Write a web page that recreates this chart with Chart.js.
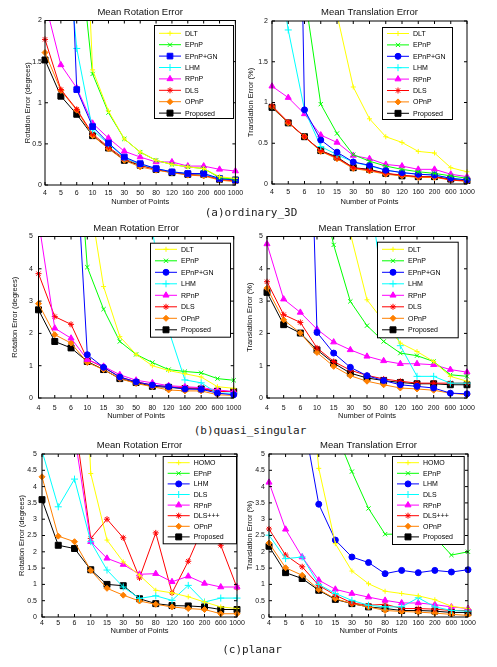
<!DOCTYPE html>
<html><head><meta charset="utf-8">
<script src="https://cdn.jsdelivr.net/npm/chart.js@4.4.1/dist/chart.umd.min.js"></script>
<style>
html,body{margin:0;padding:0;background:#fff;}
body{width:497px;height:667px;position:relative;overflow:hidden;}
.box{position:absolute;}
.box canvas{display:block;}
.cap{position:absolute;font-family:"DejaVu Sans Mono",monospace;font-size:11px;line-height:13px;color:#222;white-space:nowrap;transform:translateX(-50%);}
</style></head><body>
<div class="box" id="b1"><canvas id="c1"></canvas></div>
<div class="box" id="b2"><canvas id="c2"></canvas></div>
<div class="box" id="b3"><canvas id="c3"></canvas></div>
<div class="box" id="b4"><canvas id="c4"></canvas></div>
<div class="box" id="b5"><canvas id="c5"></canvas></div>
<div class="box" id="b6"><canvas id="c6"></canvas></div>
<div class="cap" style="left:251px;top:206px">(a)ordinary_3D</div>
<div class="cap" style="left:250px;top:424px">(b)quasi_singular</div>
<div class="cap" style="left:252px;top:643px">(c)planar</div>
<script>
// ---------- data ----------
const pointCounts = ['4','5','6','10','15','30','50','80','120','160','200','600','1000'];

// (a) ordinary_3D - rotation error (degrees)
const dlt1    = [9.5, 7.6, 5.7, 1.40, 0.90, 0.56, 0.40, 0.30, 0.25, 0.22, 0.20, 0.10, 0.08];
const epnp1   = [8.0, 5.2, 3.2, 1.35, 0.88, 0.56, 0.40, 0.30, 0.25, 0.22, 0.20, 0.09, 0.07];
const epnpgn1 = [9.0, 6.1, 1.16, 0.71, 0.51, 0.34, 0.26, 0.20, 0.16, 0.14, 0.14, 0.08, 0.06];
const lhm1    = [6.0, 3.7, 1.66, 0.67, 0.50, 0.33, 0.25, 0.20, 0.16, 0.14, 0.13, 0.08, 0.06];
const rpnp1   = [2.23, 1.46, 1.18, 0.75, 0.57, 0.41, 0.34, 0.28, 0.28, 0.23, 0.23, 0.19, 0.17];
const dls1    = [1.77, 1.16, 0.92, 0.62, 0.46, 0.32, 0.24, 0.19, 0.16, 0.13, 0.12, 0.07, 0.05];
const opnp1   = [1.61, 1.15, 0.91, 0.60, 0.44, 0.30, 0.22, 0.18, 0.15, 0.12, 0.11, 0.06, 0.04];
const prop1   = [1.52, 1.08, 0.86, 0.60, 0.45, 0.30, 0.24, 0.19, 0.15, 0.13, 0.13, 0.07, 0.06];

// (a) ordinary_3D - translation error (%)
const dlt2    = [12, 9, 6, 3.5, 2.08, 1.19, 0.80, 0.58, 0.51, 0.40, 0.38, 0.20, 0.15];
const epnp2   = [7.0, 4.5, 2.34, 0.98, 0.62, 0.36, 0.28, 0.22, 0.18, 0.15, 0.13, 0.10, 0.07];
const epnpgn2 = [14, 12, 0.91, 0.54, 0.39, 0.27, 0.23, 0.17, 0.14, 0.12, 0.11, 0.07, 0.05];
const lhm2    = [3.1, 1.89, 0.91, 0.46, 0.36, 0.27, 0.22, 0.17, 0.14, 0.12, 0.11, 0.07, 0.05];
const rpnp2   = [1.20, 1.06, 0.86, 0.60, 0.51, 0.35, 0.31, 0.24, 0.22, 0.18, 0.18, 0.12, 0.09];
const dls2    = [0.96, 0.76, 0.58, 0.41, 0.32, 0.20, 0.17, 0.13, 0.11, 0.09, 0.09, 0.05, 0.04];
const opnp2   = [0.95, 0.75, 0.58, 0.40, 0.31, 0.19, 0.16, 0.12, 0.10, 0.08, 0.08, 0.05, 0.03];
const prop2   = [0.94, 0.75, 0.58, 0.41, 0.33, 0.20, 0.18, 0.13, 0.10, 0.09, 0.09, 0.06, 0.04];

// (b) quasi_singular - rotation error (degrees)
const dlt3    = [20, 15, 10, 6.6, 3.45, 1.90, 1.35, 1.00, 0.85, 0.75, 0.65, 0.35, 0.30];
const epnp3   = [25, 18, 10.8, 4.05, 2.75, 1.75, 1.35, 1.10, 0.88, 0.82, 0.78, 0.60, 0.55];
const epnpgn3 = [30, 20, 10.3, 1.34, 0.95, 0.65, 0.50, 0.40, 0.35, 0.28, 0.27, 0.15, 0.10];
const lhm3    = [30, 25, 20, 15, 12, 10, 8, 5.2, 2.1, 0.56, 0.47, 0.15, 0.15];
const rpnp3   = [5.5, 2.16, 1.85, 1.19, 0.98, 0.72, 0.55, 0.47, 0.38, 0.35, 0.32, 0.25, 0.20];
const dls3    = [3.85, 2.52, 2.28, 1.20, 0.95, 0.65, 0.50, 0.40, 0.35, 0.32, 0.30, 0.20, 0.20];
const opnp3   = [2.92, 1.96, 1.70, 1.10, 0.88, 0.60, 0.45, 0.35, 0.25, 0.22, 0.22, 0.10, 0.08];
const prop3   = [2.73, 1.75, 1.55, 1.13, 0.88, 0.60, 0.48, 0.36, 0.33, 0.29, 0.28, 0.21, 0.20];

// (b) quasi_singular - translation error (%)
const dlt4    = [20, 15, 12, 8, 6, 5.1, 3.04, 2.37, 1.70, 1.44, 1.13, 0.67, 0.52];
const epnp4   = [20, 15, 10, 7, 4.74, 2.99, 2.24, 1.75, 1.39, 1.31, 1.13, 0.72, 0.67];
const epnpgn4 = [30, 25, 20, 2.03, 1.39, 0.95, 0.69, 0.54, 0.41, 0.36, 0.31, 0.15, 0.13];
const lhm4    = [30, 25, 20, 15, 10, 8, 7, 3.2, 1.62, 0.67, 0.67, 0.46, 0.46];
const rpnp4   = [4.77, 3.06, 2.65, 2.13, 1.73, 1.49, 1.29, 1.15, 1.06, 1.06, 1.03, 0.88, 0.80];
const dls4    = [3.60, 2.58, 2.34, 1.55, 1.13, 0.86, 0.70, 0.59, 0.52, 0.46, 0.46, 0.46, 0.46];
const opnp4   = [3.40, 2.42, 2.01, 1.41, 0.98, 0.69, 0.52, 0.41, 0.31, 0.28, 0.24, 0.15, 0.10];
const prop4   = [3.27, 2.27, 2.01, 1.49, 1.08, 0.77, 0.62, 0.54, 0.48, 0.44, 0.44, 0.41, 0.41];

// (c) planar - rotation error (degrees)
const homo5   = [25, 20, 15, 4.4, 2.36, 1.69, 1.28, 0.82, 0.74, 0.62, 0.46, 0.31, 0.26];
const epnp5   = [40, 35, 30, 25, 20, 18, 15, 12, 10, 9, 8, 7, 6.5];
const lhm5    = [45, 40, 35, 30, 25, 20, 18, 15, 12, 10, 9, 8, 7];
const dls5    = [5.1, 3.38, 4.23, 2.31, 1.44, 0.92, 0.57, 0.65, 0.51, 0.97, 0.46, 0.58, 0.58];
const rpnp5   = [12, 9, 5.6, 2.31, 1.80, 1.61, 1.31, 1.33, 1.08, 1.25, 1.03, 0.92, 0.92];
const dlsppp5 = [14, 10, 6.1, 2.41, 3.00, 2.43, 1.20, 2.58, 0.74, 1.71, 2.85, 2.20, 0.90];
const opnp5   = [4.30, 2.48, 2.31, 1.43, 0.88, 0.67, 0.49, 0.39, 0.31, 0.26, 0.23, 0.10, 0.10];
const prop5   = [3.60, 2.20, 2.10, 1.45, 1.00, 0.96, 0.56, 0.41, 0.35, 0.34, 0.31, 0.23, 0.23];

// (c) planar - translation error (%)
const homo6   = [20, 15, 10, 4.56, 2.25, 1.41, 1.02, 0.79, 0.72, 0.65, 0.53, 0.33, 0.26];
const epnp6   = [20, 15, 10, 8, 5.7, 4.46, 3.33, 2.54, 2.54, 2.50, 2.45, 1.90, 2.00];
const lhm6    = [20, 15, 6.3, 3.46, 2.36, 1.84, 1.67, 1.33, 1.43, 1.36, 1.43, 1.38, 1.45];
const dls6    = [2.51, 1.79, 1.84, 1.00, 0.72, 0.51, 0.36, 0.31, 0.31, 0.59, 0.31, 0.20, 0.18];
const rpnp6   = [4.13, 2.69, 1.84, 1.13, 0.85, 0.72, 0.61, 0.51, 0.43, 0.43, 0.38, 0.31, 0.26];
const dlsppp6 = [2.70, 1.90, 1.54, 0.97, 0.67, 0.43, 0.36, 0.39, 0.26, 0.26, 0.24, 0.20, 0.20];
const opnp6   = [2.27, 1.51, 1.28, 0.84, 0.56, 0.41, 0.31, 0.20, 0.17, 0.15, 0.12, 0.08, 0.05];
const prop6   = [2.17, 1.36, 1.18, 0.82, 0.54, 0.41, 0.31, 0.26, 0.20, 0.20, 0.18, 0.14, 0.14];

// ---------- styles ----------
const STY = {
  dlt:    {c:'#ffff00', ps:'cross',    r:2.5},
  epnp:   {c:'#00ff00', ps:'crossRot', r:3},
  gnSq:   {c:'#0000ff', ps:'rect',     r:4},
  gnCi:   {c:'#0000ff', ps:'circle',   r:3},
  cyan:   {c:'#00ffff', ps:'cross',    r:3.5},
  rpnp:   {c:'#ff00ff', ps:'triangle', r:3.5},
  red:    {c:'#ff0000', ps:'star',     r:3},
  opnp:   {c:'#ff8000', ps:'rectRot',  r:3},
  prop:   {c:'#000000', ps:'rect',     r:4.2}
};
const FONT = '"Liberation Sans", Arial, sans-serif';

const framePlugin = {
  id:'frame',
  afterDatasetsDraw(chart){
    const {ctx, chartArea:{left,top,right,bottom}, scales:{x,y}} = chart;
    ctx.save(); ctx.strokeStyle='#000'; ctx.lineWidth=1;
    ctx.strokeRect(left, top, right-left, bottom-top);
    ctx.beginPath();
    y.ticks.forEach((t,i)=>{const p=y.getPixelForTick(i); ctx.moveTo(left,p); ctx.lineTo(left+3,p); ctx.moveTo(right,p); ctx.lineTo(right-3,p);});
    x.ticks.forEach((t,i)=>{const p=x.getPixelForTick(i); ctx.moveTo(p,bottom); ctx.lineTo(p,bottom-3); ctx.moveTo(p,top); ctx.lineTo(p,top+3);});
    ctx.stroke(); ctx.restore();
  }
};

function drawMarker(ctx, ds, x, y){
  ctx.fillStyle = ds.pointBackgroundColor; ctx.strokeStyle = ds.pointBorderColor; ctx.lineWidth = ds.pointBorderWidth;
  if (Chart.helpers && Chart.helpers.drawPoint) {
    Chart.helpers.drawPoint(ctx, {pointStyle:ds.pointStyle, radius:ds.pointRadius, borderWidth:ds.pointBorderWidth, rotation:0}, x, y);
  } else {
    ctx.beginPath(); ctx.arc(x,y,ds.pointRadius,0,Math.PI*2); ctx.fill(); ctx.stroke();
  }
}

const legendPlugin = {
  id:'boxLegend',
  afterDraw(chart, args, o){
    const ctx = chart.ctx; const {l,t,r,b} = o.box;
    ctx.save();
    ctx.fillStyle='#fff'; ctx.fillRect(l,t,r-l,b-t);
    ctx.strokeStyle='#000'; ctx.lineWidth=1; ctx.strokeRect(l+0.5,t+0.5,r-l,b-t);
    chart.data.datasets.forEach((ds,i)=>{
      const yy = o.y0 + i*o.dy;
      ctx.strokeStyle = ds.borderColor; ctx.lineWidth = 1;
      ctx.beginPath(); ctx.moveTo(l+5,yy); ctx.lineTo(l+27,yy); ctx.stroke();
      drawMarker(ctx, ds, l+16, yy);
      ctx.fillStyle='#000'; ctx.font='7px '+FONT; ctx.textBaseline='middle'; ctx.textAlign='left';
      ctx.fillText(ds.label, l+31, yy+0.5);
    });
    ctx.restore();
  }
};

function makeChart(n, s){
  const div = document.getElementById('b'+n);
  div.style.left = s.cl+'px'; div.style.top = s.ct+'px';
  const cv = document.getElementById('c'+n);
  cv.width = s.cw; cv.height = s.ch; cv.style.width = s.cw+'px'; cv.style.height = s.ch+'px';
  const tfs = 9.5, tlh = tfs*1.2, afs = 7.5, alh = afs*1.2, kfs = 7, klh = kfs*1.2;
  const tPadTop = s.titleY - s.ct - tlh/2;
  const tPadBot = (s.area.t - s.ct) - tlh - tPadTop;
  const datasets = s.series.map(([label, data, key])=>{
    const st = STY[key];
    return {label, data, borderColor:st.c, backgroundColor:st.c, borderWidth:1, tension:0, fill:false,
      pointStyle:st.ps, pointRadius:st.r, pointHoverRadius:st.r, pointBackgroundColor:st.c,
      pointBorderColor:st.c, pointBorderWidth:1};
  });
  return new Chart(cv, {
    type:'line',
    data:{labels:pointCounts, datasets},
    plugins:[framePlugin, legendPlugin],
    options:{
      responsive:false, animation:false, events:[],
      layout:{padding:{left:0, top:0, bottom:0, right:(s.cl+s.cw)-s.area.r}},
      plugins:{
        legend:{display:false}, tooltip:{enabled:false},
        title:{display:true, text:s.title, fullSize:false, color:'#111',
          font:{family:FONT, size:tfs, weight:'normal'}, padding:{top:tPadTop, bottom:tPadBot}},
        boxLegend:{box:{l:s.lg.l-s.cl, t:s.lg.t-s.ct, r:s.lg.r-s.cl, b:s.lg.b-s.ct}, y0:s.lg.y0-s.ct, dy:s.lg.dy}
      },
      scales:{
        x:{type:'category', offset:false,
          grid:{display:false, drawTicks:false}, border:{display:false},
          ticks:{autoSkip:false, maxRotation:0, minRotation:0, padding:s.xTickY - s.area.b - klh/2, color:'#111', font:{family:FONT,size:kfs}},
          title:{display:true, text:'Number of Points', color:'#111', font:{family:FONT,size:afs}, padding:{top:0,bottom:(s.ct+s.ch)-s.xTitleY-alh/2}},
          afterFit:(sc)=>{sc.height = (s.ct+s.ch)-s.area.b;}
        },
        y:{min:0, max:s.yMax,
          grid:{display:false, drawTicks:false}, border:{display:false},
          ticks:{stepSize:s.yStep, padding:s.area.l - s.yTickR, color:'#111', font:{family:FONT,size:kfs},
            callback:(v)=>String(Math.round(v*100)/100)},
          title:{display:true, text:s.yTitle, color:'#111', font:{family:FONT,size:afs}, padding:{top:s.yTitleX - s.cl - alh/2, bottom:0}},
          afterFit:(sc)=>{sc.width = s.area.l - s.cl;}
        }
      }
    }
  });
}

const ROT = 'Rotation Error (degrees)', TRA = 'Translation Error (%)';
const T_ROT = 'Mean Rotation Error', T_TRA = 'Mean Translation Error';

makeChart(1, {cl:0, ct:0, cw:247, ch:207, area:{l:45,t:20.5,r:237,b:185}, title:T_ROT, titleY:12.5,
  yTitle:ROT, yTitleX:28, yTickR:42, xTickY:193, xTitleY:202, yMax:2, yStep:0.5,
  lg:{l:154,t:25,r:233,b:118,y0:33.3,dy:11.4},
  series:[['DLT',dlt1,'dlt'],['EPnP',epnp1,'epnp'],['EPnP+GN',epnpgn1,'gnSq'],['LHM',lhm1,'cyan'],
          ['RPnP',rpnp1,'rpnp'],['DLS',dls1,'red'],['OPnP',opnp1,'opnp'],['Proposed',prop1,'prop']]});

makeChart(2, {cl:240, ct:0, cw:257, ch:207, area:{l:272,t:21,r:467,b:184}, title:T_TRA, titleY:12.7,
  yTitle:TRA, yTitleX:251, yTickR:268, xTickY:192.5, xTitleY:202, yMax:2, yStep:0.5,
  lg:{l:382,t:27,r:452,b:119,y0:33.5,dy:11.4},
  series:[['DLT',dlt2,'dlt'],['EPnP',epnp2,'epnp'],['EPnP+GN',epnpgn2,'gnCi'],['LHM',lhm2,'cyan'],
          ['RPnP',rpnp2,'rpnp'],['DLS',dls2,'red'],['OPnP',opnp2,'opnp'],['Proposed',prop2,'prop']]});

makeChart(3, {cl:0, ct:215, cw:247, ch:207, area:{l:38.5,t:236.5,r:236,b:398}, title:T_ROT, titleY:228.3,
  yTitle:ROT, yTitleX:15, yTickR:33, xTickY:407.7, xTitleY:416, yMax:5, yStep:1,
  lg:{l:150,t:242.7,r:230,b:336.7,y0:249.3,dy:11.5},
  series:[['DLT',dlt3,'dlt'],['EPnP',epnp3,'epnp'],['EPnP+GN',epnpgn3,'gnCi'],['LHM',lhm3,'cyan'],
          ['RPnP',rpnp3,'rpnp'],['DLS',dls3,'red'],['OPnP',opnp3,'opnp'],['Proposed',prop3,'prop']]});

makeChart(4, {cl:240, ct:215, cw:257, ch:207, area:{l:267,t:236.5,r:467,b:398}, title:T_TRA, titleY:228.3,
  yTitle:TRA, yTitleX:250, yTickR:263, xTickY:407.7, xTitleY:416, yMax:5, yStep:1,
  lg:{l:377,t:241.7,r:457.7,b:337.3,y0:249.3,dy:11.5},
  series:[['DLT',dlt4,'dlt'],['EPnP',epnp4,'epnp'],['EPnP+GN',epnpgn4,'gnCi'],['LHM',lhm4,'cyan'],
          ['RPnP',rpnp4,'rpnp'],['DLS',dls4,'red'],['OPnP',opnp4,'opnp'],['Proposed',prop4,'prop']]});

makeChart(5, {cl:0, ct:438, cw:247, ch:200, area:{l:42,t:454,r:237,b:617}, title:T_ROT, titleY:445,
  yTitle:ROT, yTitleX:21.7, yTickR:37, xTickY:622.7, xTitleY:631, yMax:5, yStep:0.5,
  lg:{l:162.7,t:456,r:236,b:543.3,y0:462.7,dy:10.6},
  series:[['HOMO',homo5,'dlt'],['EPnP',epnp5,'epnp'],['LHM',lhm5,'gnCi'],['DLS',dls5,'cyan'],
          ['RPnP',rpnp5,'rpnp'],['DLS+++',dlsppp5,'red'],['OPnP',opnp5,'opnp'],['Proposed',prop5,'prop']]});

makeChart(6, {cl:240, ct:438, cw:257, ch:200, area:{l:269,t:454,r:468,b:617}, title:T_TRA, titleY:445,
  yTitle:TRA, yTitleX:250.3, yTickR:265, xTickY:622.7, xTitleY:631, yMax:5, yStep:0.5,
  lg:{l:392,t:456,r:463.7,b:544,y0:462.7,dy:10.6},
  series:[['HOMO',homo6,'dlt'],['EPnP',epnp6,'epnp'],['LHM',lhm6,'gnCi'],['DLS',dls6,'cyan'],
          ['RPnP',rpnp6,'rpnp'],['DLS+++',dlsppp6,'red'],['OPnP',opnp6,'opnp'],['Proposed',prop6,'prop']]});
</script>
</body></html>
